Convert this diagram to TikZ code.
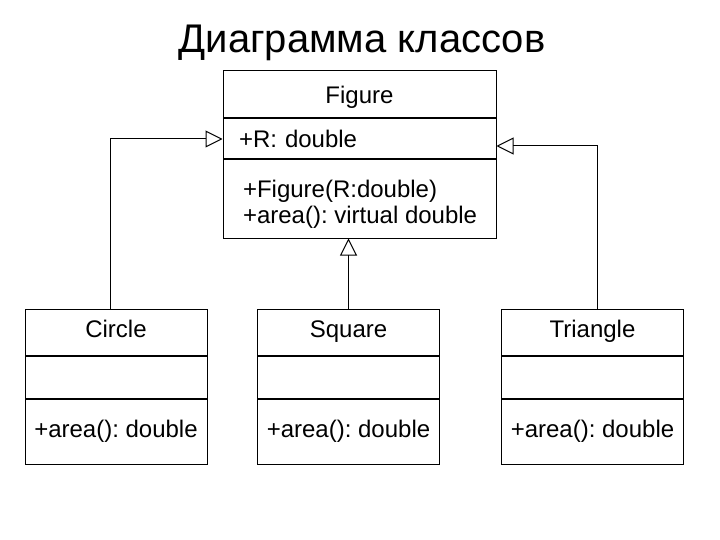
\documentclass[tikz,border=0pt]{standalone}
\usepackage{fontspec}
\setmainfont{Liberation Sans}
\frenchspacing
\usetikzlibrary {positioning}
\usetikzlibrary {arrows.meta}

\begin{document}
\begin{tikzpicture}[x=1pt, y=-1pt, line width=1pt,
  font=\fontsize{24}{26}\selectfont,
  part/.style={rectangle, draw, inner sep=0pt, minimum width=182pt},
  header/.style={part, text height=16pt, text depth=5pt},
  inherit/.style={-{Triangle[open, length=17pt, width=17pt]}}]
\useasboundingbox (0,0) rectangle (720,540);

\node [anchor=base] (title) at (362,53) {\fontsize{40}{48}\selectfont Диаграмма классов};

%base class
\node [header, text height=20pt, text depth=1pt, minimum width=273pt, minimum height=47pt] (figname) at (359.5,94.5) {Figure};
\node [part, align=left, inner xsep=16pt, text width=241pt, minimum height=40pt, below=0pt of figname] (figattr) {+R: double};
\node [part, minimum width=273pt, minimum height=78pt, below=0pt of figattr] (figops) {};
\node [align=left, anchor=west, inner sep=0pt] (figopstext) at ([xshift=20pt, yshift=-5pt]figops.west) {+Figure(R:double)\\+area(): virtual double};

%derived classes
\node [header, minimum height=46pt] (circname) at (116,332) {Circle};
\node [part, minimum height=42pt, below=0pt of circname] (circattr) {};
\node [part, minimum height=65pt, below=0pt of circattr] (circops) {+area(): double};

\node [header, minimum height=46pt] (sqname) at (348.5,332) {Square};
\node [part, minimum height=42pt, below=0pt of sqname] (sqattr) {};
\node [part, minimum height=65pt, below=0pt of sqattr] (sqops) {+area(): double};

\node [header, minimum height=46pt] (trianame) at (592.5,332) {Triangle};
\node [part, minimum height=42pt, below=0pt of trianame] (triaattr) {};
\node [part, minimum height=65pt, below=0pt of triaattr] (triaops) {+area(): double};

%generalization
\draw [inherit] ([xshift=-6pt]circname.north) |- (figattr.west);
\draw [inherit] (sqname.north) -- (sqname.north |- figops.south);
\draw [inherit] ([xshift=5pt]trianame.north) |- ([yshift=-7pt]figattr.east);

\end{tikzpicture}
\end{document}
